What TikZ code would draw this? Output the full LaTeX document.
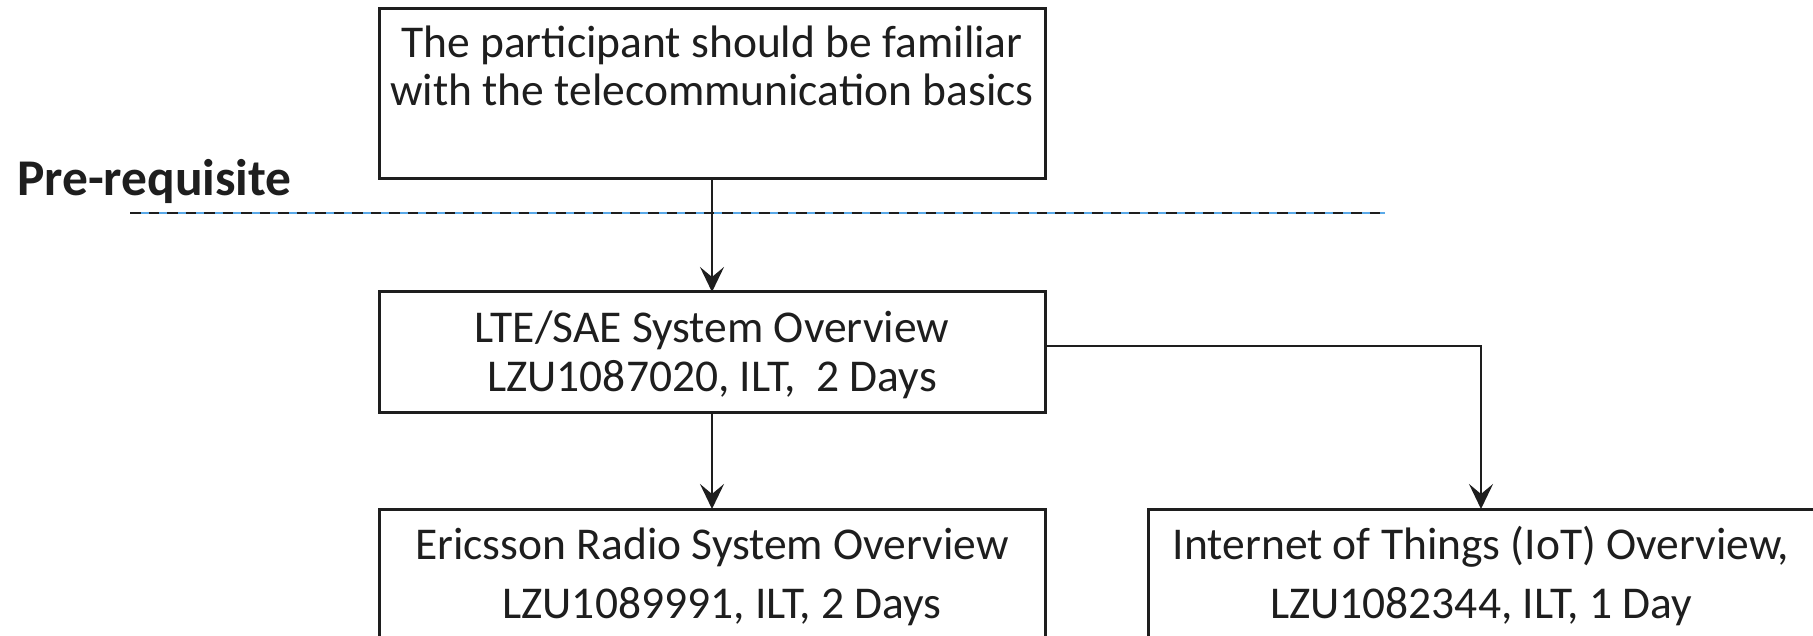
\documentclass[tikz,border=0pt]{standalone}
\usepackage{fontspec}
\setmainfont{Carlito}
\usetikzlibrary{arrows.meta}
\definecolor{lineblue}{HTML}{5AA9E8}
\definecolor{ink}{HTML}{1E1E1E}
\begin{document}
\begin{tikzpicture}[x=1pt,y=1pt,
  box/.style={draw=ink, line width=3pt, rectangle, inner sep=0pt},
  txt/.style={align=center, inner sep=0pt, text=ink, font=\fontsize{45.5}{48.6}\selectfont},
  txtb/.style={align=center, inner sep=0pt, text=ink, font=\fontsize{45.5}{58.6}\selectfont},
  arr/.style={draw=ink, line width=2.6pt, -{Stealth[length=25pt, width=24pt, inset=10pt]}},
  every node/.style={outer sep=0pt}]
\clip (0,0) rectangle (1813,-636);
\fill[white] (0,0) rectangle (1813,-636);

% boxes
\node[box, minimum width=666, minimum height=170, anchor=north] (top) at (712,-9) {};
\node[txt, anchor=base] (toptext) at (712,-106) {The participant should be familiar\\with the telecommunication basics};

\node[box, minimum width=666, minimum height=120, anchor=north] (lte) at (712,-292) {};
\node[txt, anchor=base] (ltetext) at (712,-391) {LTE/SAE System Overview\\LZU1087020, ILT,\ \ 2 Days};

\node[box, minimum width=666, minimum height=170, anchor=north] (eric) at (712,-509) {};
\node[txtb, anchor=base] (erictext) at (712,-618) {Ericsson Radio System Overview\\\hspace*{20pt}LZU1089991, ILT, 2 Days};

\node[box, minimum width=666, minimum height=170, anchor=north] (iot) at (1481,-509) {};
\node[txtb, anchor=base] (iottext) at (1481,-618) {Internet of Things (IoT) Overview,\\LZU1082344, ILT, 1 Day};

% pre-requisite label and line
\node[anchor=base west, inner sep=0pt, text=ink, font=\fontsize{51.5}{55}\bfseries\selectfont] (pre) at (17,-196) {Pre-requisite};
\coordinate (dl) at (130,-213);
\coordinate (dr) at (1385,-213);
\draw[lineblue, line width=1.5pt] (dl) -- (dr);
\draw[ink, line width=2.6pt, dash pattern=on 10.5pt off 8pt] (dl) -- (dr);

% connectors
\draw[arr] (top.south) -- (lte.north);
\draw[arr] (lte.south) -- (eric.north);
\draw[arr] ([yshift=6pt]lte.east) -| (iot.north);
\end{tikzpicture}
\end{document}
